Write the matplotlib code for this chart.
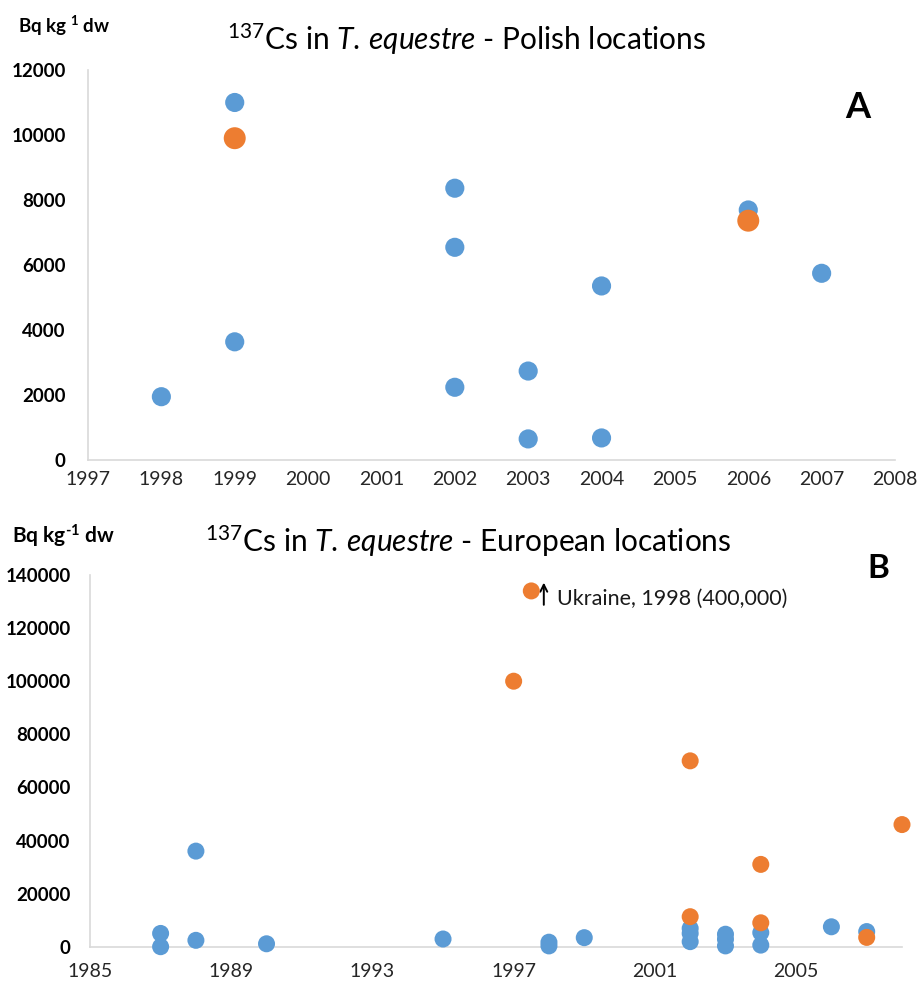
import matplotlib
matplotlib.use("Agg")
import matplotlib.pyplot as plt
from matplotlib.transforms import offset_copy

plt.rcParams['font.family'] = ['Lato', 'DejaVu Sans']
plt.rcParams['mathtext.fontset'] = 'custom'
plt.rcParams['mathtext.rm'] = 'Lato'
plt.rcParams['mathtext.it'] = 'Lato:italic'
plt.rcParams['mathtext.bf'] = 'Lato:bold'

# Panel A - Polish locations
a_blue_year = [1998, 1999, 1999, 2002, 2002, 2002, 2003, 2003, 2004, 2004, 2006, 2007]
a_blue_val = [1940, 11000, 3630, 8360, 6540, 2230, 2730, 640, 5350, 670, 7690, 5740]
a_orange_year = [1999, 2006]
a_orange_val = [9900, 7360]

# Panel B - European locations
b_blue_year = [1987, 1987, 1988, 1988, 1990, 1995, 1998, 1998, 1999,
               2002, 2002, 2002, 2003, 2003, 2003, 2004, 2004, 2006, 2007]
b_blue_val = [5000, 0, 36000, 2400, 1100, 2900, 1700, 300, 3400,
              6900, 5000, 1900, 4700, 2800, 300, 5300, 600, 7500, 5700]
b_orange_year = [1997, 1997.5, 2002, 2002, 2004, 2004, 2007, 2008]
b_orange_val = [100000, 134000, 70000, 11300, 31000, 9000, 3500, 46000]
uk_year, uk_val = 1997.5, 134000

BLUE = '#5B9BD5'
ORANGE = '#ED7D31'
W, H = 921, 982

fig = plt.figure(figsize=(W / 100, H / 100), dpi=100)


def style_axes(ax, xpad, ypad):
    for s in ['top', 'right']:
        ax.spines[s].set_visible(False)
    for s in ['left', 'bottom']:
        ax.spines[s].set_color('#D9D9D9')
        ax.spines[s].set_linewidth(1.2)
    ax.tick_params(length=0)
    ax.tick_params(axis='x', pad=xpad, labelsize=14, labelcolor='#262626')
    ax.tick_params(axis='y', pad=ypad, labelsize=13.5)
    for lab in ax.get_yticklabels():
        lab.set_fontweight('bold')


title_tpl = r'$^{137}$Cs in $\mathit{T.\,equestre}$ - %s locations'

# ---- A ----
axA = fig.add_axes([88 / W, 1 - 459.7 / H, (895 - 88) / W, 389.7 / H])
axA.scatter(a_blue_year, a_blue_val, s=190, color=BLUE, edgecolors='none', clip_on=False, zorder=3)
axA.scatter(a_orange_year, a_orange_val, s=250, color=ORANGE, edgecolors='none', clip_on=False, zorder=4)
axA.set_xlim(1997, 2008)
axA.set_ylim(0, 12000)
axA.set_xticks(range(1997, 2009))
axA.set_yticks(range(0, 12001, 2000))
style_axes(axA, 8, 16)

fig.text(18 / W, 1 - 33 / H, r'Bq kg $^{\mathbf{1}}$ dw', fontsize=13.5, fontweight='bold', va='baseline')
fig.text(467 / W, 1 - 50 / H, title_tpl % 'Polish', fontsize=21.5, ha='center', va='baseline')
fig.text(845 / W, 1 - 118 / H, 'A', fontsize=26, fontweight='bold', va='baseline')

# ---- B ----
axB = fig.add_axes([90 / W, 1 - 946.7 / H, (902 - 90) / W, 371.7 / H])
axB.scatter(b_blue_year, b_blue_val, s=150, color=BLUE, edgecolors='none', clip_on=False, zorder=3)
axB.scatter(b_orange_year, b_orange_val, s=150, color=ORANGE, edgecolors='none', clip_on=False, zorder=4)
axB.set_xlim(1985, 2008)
axB.set_ylim(0, 140000)
axB.set_xticks(range(1985, 2006, 4))
axB.set_yticks(range(0, 140001, 20000))
style_axes(axB, 12, 14)

fig.text(12 / W, 1 - 543 / H, 'Bq kg$^{\\mathbf{\u20101}}$ dw', fontsize=15,
         fontweight='bold', va='baseline')
fig.text(468 / W, 1 - 552 / H, title_tpl % 'European', fontsize=21.5, ha='center', va='baseline')
fig.text(867 / W, 1 - 578 / H, 'B', fontsize=24, fontweight='bold', va='baseline')

# Ukraine annotation (value off scale)
t_arrow = offset_copy(axB.transData, fig=fig, x=9, y=8, units='points')
axB.annotate('', xy=(uk_year, uk_val), xycoords=t_arrow, xytext=(0, -20), textcoords='offset points',
             arrowprops=dict(arrowstyle='->,head_length=0.5,head_width=0.25', lw=1.4, color='black'))
axB.annotate('Ukraine, 1998 (400,000)', xy=(uk_year, uk_val), xytext=(18.5, -10.3),
             textcoords='offset points', fontsize=15.5, va='baseline', color='#1a1a1a')

fig.savefig('out.png', dpi=100)
